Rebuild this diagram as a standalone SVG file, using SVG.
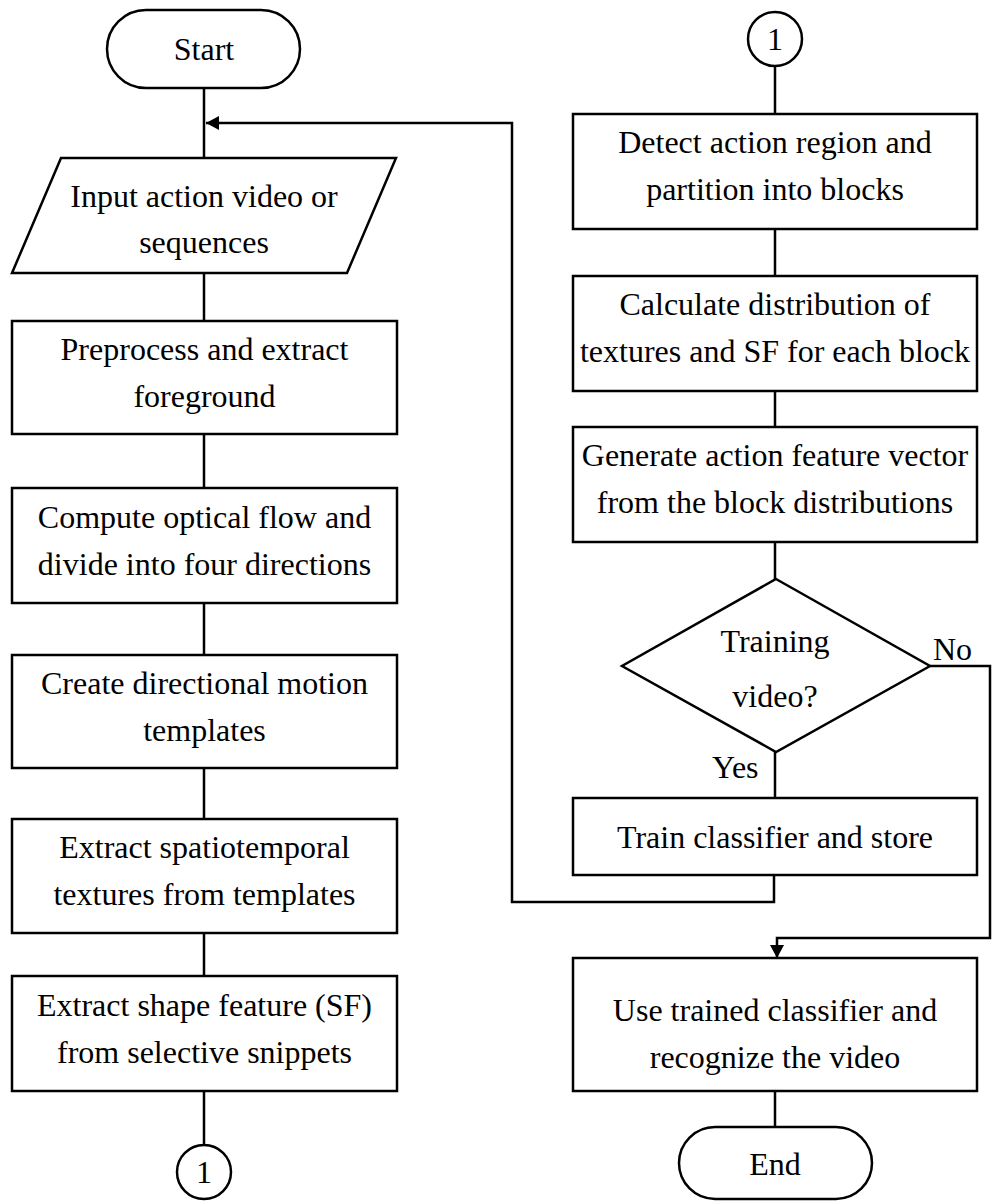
<svg xmlns="http://www.w3.org/2000/svg" width="992" height="1201" viewBox="0 0 992 1201">
<style>
.s{fill:#fff;stroke:#000;stroke-width:2.5}
.c{fill:none;stroke:#000;stroke-width:2.5}
.t{font-family:'Liberation Serif','Times New Roman',Tinos,Times,'DejaVu Serif',serif;font-size:32px;fill:#000;text-anchor:middle}
.l{text-anchor:start}
</style>
<defs>
<marker id="ah" markerWidth="14" markerHeight="14" refX="13" refY="7" orient="auto" markerUnits="userSpaceOnUse">
<path d="M0,0 L13,7 L0,14 Z" fill="#000"/>
</marker>
</defs>
<rect width="992" height="1201" fill="#fff"/>
<g id="connectors">
<path class="c" d="M204,88 V158"/>
<path class="c" d="M774,875 V902 H512 V123 H206" marker-end="url(#ah)"/>
<path class="c" d="M204,273 V321"/>
<path class="c" d="M204,434 V488"/>
<path class="c" d="M204,603 V655"/>
<path class="c" d="M204,768 V819"/>
<path class="c" d="M204,933 V976"/>
<path class="c" d="M204,1091 V1144"/>
<path class="c" d="M775,66 V114"/>
<path class="c" d="M775,229 V276"/>
<path class="c" d="M775,391 V427"/>
<path class="c" d="M775,542 V579"/>
<path class="c" d="M775,752 V798"/>
<path class="c" d="M930,666 H990 V938 H777 V958" marker-end="url(#ah)"/>
<path class="c" d="M775,1091 V1127"/>
</g>
<g class="t" font-family="Liberation Serif, Times New Roman, serif">
<g id="start">
<rect class="s" x="107" y="10" width="193" height="78" rx="39" ry="39"/>
<text x="204" y="60">Start</text>
</g>
<g id="input">
<polygon class="s" points="61,158 396,158 347,273 12,273"/>
<text x="204" y="207">Input action video or</text>
<text x="204" y="253">sequences</text>
</g>
<g id="preprocess">
<rect class="s" x="12" y="321" width="385" height="113"/>
<text x="204.5" y="360">Preprocess and extract</text>
<text x="204.5" y="407">foreground</text>
</g>
<g id="opticalflow">
<rect class="s" x="12" y="488" width="385" height="115"/>
<text x="204.5" y="528">Compute optical flow and</text>
<text x="204.5" y="575">divide into four directions</text>
</g>
<g id="templates">
<rect class="s" x="12" y="655" width="385" height="113"/>
<text x="204.5" y="694">Create directional motion</text>
<text x="204.5" y="741">templates</text>
</g>
<g id="textures">
<rect class="s" x="12" y="819" width="385" height="114"/>
<text x="204.5" y="858">Extract spatiotemporal</text>
<text x="204.5" y="905">textures from templates</text>
</g>
<g id="shape">
<rect class="s" x="12" y="976" width="385" height="115"/>
<text x="204.5" y="1016">Extract shape feature (SF)</text>
<text x="204.5" y="1063">from selective snippets</text>
</g>
<g id="conn1-out">
<circle class="s" cx="204" cy="1172" r="27"/>
<text x="204" y="1183">1</text>
</g>
<g id="conn1-in">
<circle class="s" cx="775" cy="39" r="27"/>
<text x="775" y="50">1</text>
</g>
<g id="detect">
<rect class="s" x="573" y="114" width="404" height="115"/>
<text x="775" y="153">Detect action region and</text>
<text x="775" y="200">partition into blocks</text>
</g>
<g id="distribution">
<rect class="s" x="573" y="276" width="404" height="115"/>
<text x="775" y="315">Calculate distribution of</text>
<text x="775" y="362">textures and SF for each block</text>
</g>
<g id="featurevector">
<rect class="s" x="573" y="427" width="404" height="115"/>
<text x="775" y="466">Generate action feature vector</text>
<text x="775" y="513">from the block distributions</text>
</g>
<g id="decision">
<polygon class="s" points="776,579 930,666 776,752 622,666"/>
<text x="775" y="652">Training</text>
<text x="775" y="707">video?</text>
<text class="l" x="933" y="660">No</text>
<text class="l" x="712" y="778">Yes</text>
</g>
<g id="train">
<rect class="s" x="573" y="798" width="404" height="77"/>
<text x="775" y="848">Train classifier and store</text>
</g>
<g id="recognize">
<rect class="s" x="573" y="958" width="404" height="133"/>
<text x="775" y="1021">Use trained classifier and</text>
<text x="775" y="1068">recognize the video</text>
</g>
<g id="end">
<rect class="s" x="679" y="1127" width="193" height="72" rx="36" ry="36"/>
<text x="775" y="1175">End</text>
</g>
</g>
</svg>
